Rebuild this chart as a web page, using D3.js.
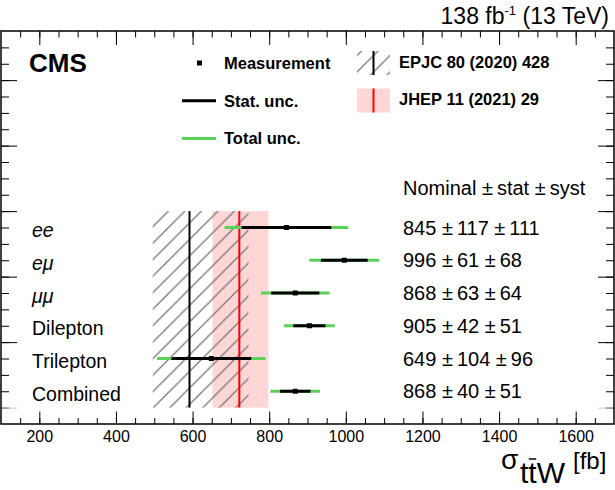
<!DOCTYPE html>
<head>
  <meta charset="utf-8">
  <script src="https://d3js.org/d3.v7.min.js"></script>
  <style>
    body { margin:0; background:#fff; }
    svg { font-family: "Liberation Sans", Arial, sans-serif; }
  </style>
</head>
<body>
<script>
// values
var categories = ["ee", "eμ", "μμ", "Dilepton", "Trilepton", "Combined"];
var rowPos = [6, 5, 4, 3, 2, 1];
var nominal = [845, 996, 868, 905, 649, 868];
var statUnc = [117, 61, 63, 42, 104, 40];
var systUnc = [111, 68, 64, 51, 96, 51];
var italicRow = [true, true, true, false, false, false];

// theory predictions
var epjc = {central: 592, lo: 496, hi: 746};
var jhep = {central: 722, lo: 652, hi: 798};

var xMajor = [200, 400, 600, 800, 1000, 1200, 1400, 1600];
var xMinor = d3.range(150, 1700, 50);
var yMajor = [0.5, 2.5, 4.5, 6.5, 8.5, 10.5];
var yMinor = d3.range(0.5, 12, 0.5);

var W = 615, H = 490;
var svg = d3.select("body").append("svg").attr("width", W).attr("height", H);

var x = d3.scaleLinear().domain([100, 1700]).range([1, 614]);
var y = d3.scaleLinear().domain([0, 12]).range([424, 31]);

var green = "#5ad25a";
var pm = "\u00b1\u2009";

// hatch pattern
var defs = svg.append("defs");
var pat = defs.append("pattern").attr("id", "hatch")
  .attr("patternUnits", "userSpaceOnUse").attr("width", 16.5).attr("height", 16.5);
pat.append("path").attr("d", "M0,16.5 L16.5,0 M-4,4 L4,-4 M12.5,20.5 L20.5,12.5")
  .attr("stroke", "#777").attr("stroke-width", 1.3);

// JHEP band (pink)
svg.append("rect")
  .attr("x", x(jhep.lo)).attr("width", x(jhep.hi) - x(jhep.lo))
  .attr("y", y(6.5)).attr("height", y(0.5) - y(6.5))
  .attr("fill", "#ffd6d6");

// EPJC band (hatched)
svg.append("rect")
  .attr("x", x(epjc.lo)).attr("width", x(epjc.hi) - x(epjc.lo))
  .attr("y", y(6.5)).attr("height", y(0.5) - y(6.5))
  .attr("fill", "url(#hatch)");

svg.append("line")
  .attr("x1", x(epjc.central)).attr("x2", x(epjc.central))
  .attr("y1", y(6.5)).attr("y2", y(0.5))
  .attr("stroke", "#000").attr("stroke-width", 2);

svg.append("line")
  .attr("x1", x(jhep.central)).attr("x2", x(jhep.central))
  .attr("y1", y(6.5)).attr("y2", y(0.5))
  .attr("stroke", "#ff0000").attr("stroke-width", 2);

// measurements
var rows = categories.map(function(c, i) {
  return {cat: c, pos: rowPos[i], nom: nominal[i], stat: statUnc[i], syst: systUnc[i],
          tot: Math.sqrt(statUnc[i] * statUnc[i] + systUnc[i] * systUnc[i]), it: italicRow[i]};
});

svg.selectAll(".tot").data(rows).enter().append("line")
  .attr("x1", function(d) { return x(d.nom - d.tot); })
  .attr("x2", function(d) { return x(d.nom + d.tot); })
  .attr("y1", function(d) { return y(d.pos); })
  .attr("y2", function(d) { return y(d.pos); })
  .attr("stroke", green).attr("stroke-width", 3);

svg.selectAll(".stat").data(rows).enter().append("line")
  .attr("x1", function(d) { return x(d.nom - d.stat); })
  .attr("x2", function(d) { return x(d.nom + d.stat); })
  .attr("y1", function(d) { return y(d.pos); })
  .attr("y2", function(d) { return y(d.pos); })
  .attr("stroke", "#000").attr("stroke-width", 3);

svg.selectAll(".mk").data(rows).enter().append("rect")
  .attr("x", function(d) { return x(d.nom) - 2.5; })
  .attr("y", function(d) { return y(d.pos) - 2.5; })
  .attr("width", 5).attr("height", 5).attr("fill", "#000");

// row labels
svg.selectAll(".lab").data(rows).enter().append("text")
  .attr("x", 32).attr("y", function(d) { return y(d.pos) + 9.5; })
  .attr("font-size", 19.5)
  .attr("font-style", function(d) { return d.it ? "italic" : "normal"; })
  .text(function(d) { return d.cat; });

// value text
svg.append("text").attr("x", 403).attr("y", 195).attr("font-size", 20)
  .text("Nominal " + pm + "stat " + pm + "syst");
svg.selectAll(".val").data(rows).enter().append("text")
  .attr("x", 403).attr("y", function(d) { return y(d.pos) + 7; })
  .attr("font-size", 20)
  .text(function(d) { return d.nom + " " + pm + d.stat + " " + pm + d.syst; });

// axes (ticks inside the frame)
function clean(g) { g.select(".domain").remove(); g.selectAll("line").attr("stroke", "#000"); }

svg.append("g").attr("transform", "translate(0," + y(0) + ")")
  .call(d3.axisBottom(x).tickValues(xMinor).tickSize(-6).tickFormat(""))
  .call(clean);
svg.append("g").attr("transform", "translate(0," + y(0) + ")")
  .call(d3.axisBottom(x).tickValues(xMajor).tickSize(-12.5).tickPadding(7).tickFormat(d3.format("d")))
  .call(clean)
  .call(function(g) { g.selectAll("text").attr("font-size", 16).attr("fill", "#000")
    .attr("font-family", "Liberation Sans, Arial, sans-serif"); });

svg.append("g").attr("transform", "translate(0," + y(12) + ")")
  .call(d3.axisTop(x).tickValues(xMinor).tickSize(-6.5).tickFormat(""))
  .call(clean);
svg.append("g").attr("transform", "translate(0," + y(12) + ")")
  .call(d3.axisTop(x).tickValues(xMajor).tickSize(-14).tickFormat(""))
  .call(clean);

[[x.range()[0], d3.axisLeft], [x.range()[1], d3.axisRight]].forEach(function(a) {
  svg.append("g").attr("transform", "translate(" + a[0] + ",0)")
    .call(a[1](y).tickValues(yMinor).tickSize(-8).tickFormat(""))
    .call(clean);
  svg.append("g").attr("transform", "translate(" + a[0] + ",0)")
    .call(a[1](y).tickValues(yMajor).tickSize(-16).tickFormat(""))
    .call(clean)
    .call(function(g) { g.selectAll(".tick").filter(function(d) { return d === 0.5; })
      .selectAll("line").attr("stroke", "#c8c8c8"); });
});

// frame
svg.append("rect")
  .attr("x", x.range()[0]).attr("y", y(12))
  .attr("width", x.range()[1] - x.range()[0]).attr("height", y(0) - y(12))
  .attr("fill", "none").attr("stroke", "#000").attr("stroke-width", 1.5);

// legend
svg.append("text").attr("x", 29).attr("y", 72).attr("font-size", 26).attr("font-weight", "bold").text("CMS");

svg.append("rect").attr("x", 197).attr("y", 60.5).attr("width", 5).attr("height", 5).attr("fill", "#000");
svg.append("line").attr("x1", 182).attr("x2", 216).attr("y1", 100.7).attr("y2", 100.7)
  .attr("stroke", "#000").attr("stroke-width", 3);
svg.append("line").attr("x1", 182).attr("x2", 216).attr("y1", 138.5).attr("y2", 138.5)
  .attr("stroke", green).attr("stroke-width", 3);
var legTxt = [["Measurement", 69], ["Stat. unc.", 106.7], ["Total unc.", 144.3]];
legTxt.forEach(function(t) {
  svg.append("text").attr("x", 224).attr("y", t[1]).attr("font-size", 16.5)
    .attr("font-weight", "bold").text(t[0]);
});

svg.append("rect").attr("x", 357).attr("y", 51).attr("width", 33).attr("height", 24).attr("fill", "url(#hatch)");
svg.append("line").attr("x1", 373.5).attr("x2", 373.5).attr("y1", 51).attr("y2", 75)
  .attr("stroke", "#000").attr("stroke-width", 2);
svg.append("rect").attr("x", 357).attr("y", 88.5).attr("width", 33).attr("height", 24).attr("fill", "#ffd6d6");
svg.append("line").attr("x1", 373.5).attr("x2", 373.5).attr("y1", 88.5).attr("y2", 112.5)
  .attr("stroke", "#ff0000").attr("stroke-width", 2);
svg.append("text").attr("x", 399).attr("y", 67.7).attr("font-size", 16.5).attr("font-weight", "bold")
  .text("EPJC 80 (2020) 428");
svg.append("text").attr("x", 399).attr("y", 105).attr("font-size", 16.5).attr("font-weight", "bold")
  .text("JHEP 11 (2021) 29");

// lumi label
var lumi = svg.append("text").attr("x", 609).attr("y", 23.5).attr("text-anchor", "end").attr("font-size", 23);
lumi.append("tspan").text("138 fb");
lumi.append("tspan").attr("font-size", 13).attr("dy", -9).text("-1");
lumi.append("tspan").attr("dy", 9).text(" (13 TeV)");

// x axis title
svg.append("text").attr("x", 501).attr("y", 469).attr("font-size", 28).text("σ");
var sub = svg.append("text").attr("x", 520).attr("y", 483).attr("font-size", 30).text("ttW");
var n = sub.node();
var b0 = n.getStartPositionOfChar(1).x, b1 = n.getEndPositionOfChar(1).x;
svg.append("line").attr("x1", b0 + 0.5).attr("x2", b1 - 0.5).attr("y1", 459).attr("y2", 459)
  .attr("stroke", "#000").attr("stroke-width", 1.5);
svg.append("text").attr("x", 573).attr("y", 468.5).attr("font-size", 24).text("[fb]");
</script>
</body>
